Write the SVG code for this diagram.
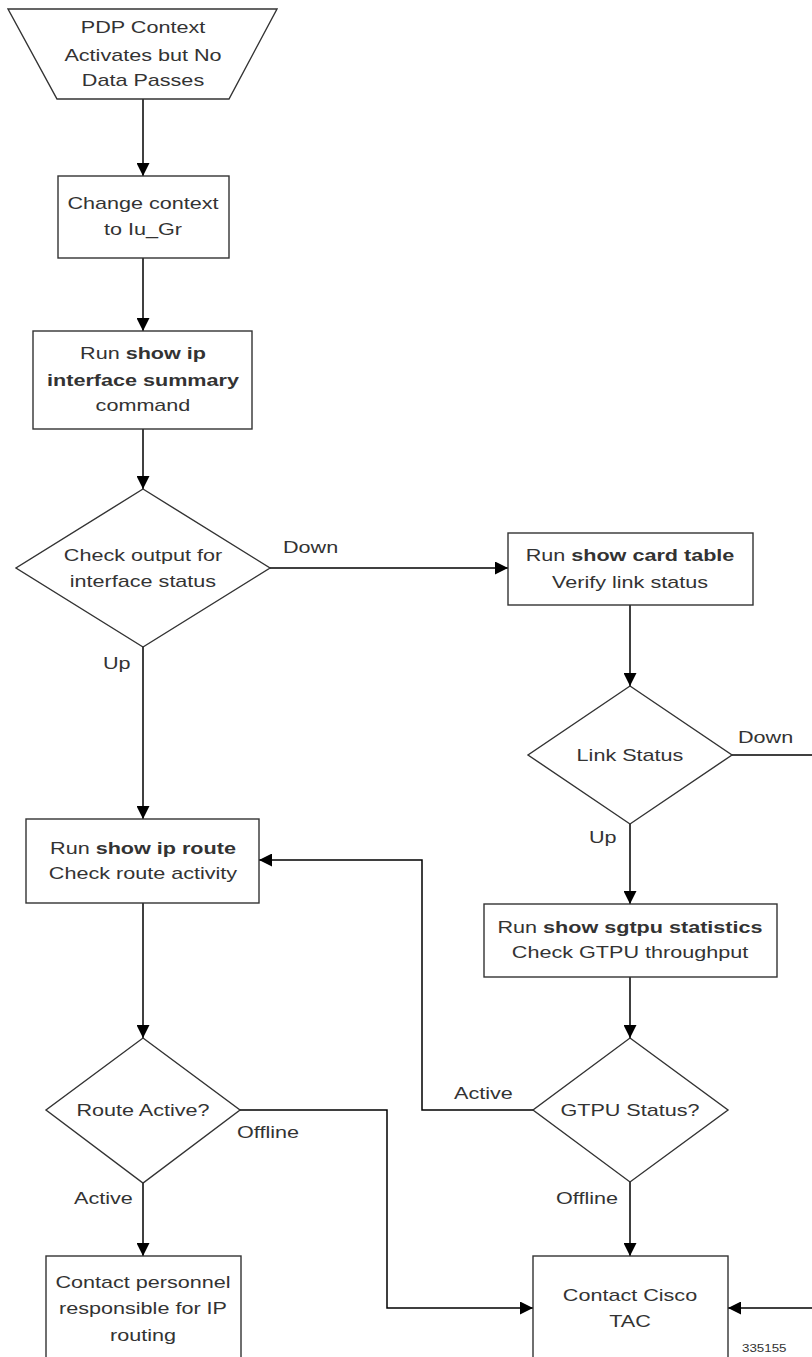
<svg xmlns="http://www.w3.org/2000/svg" width="812" height="1357" viewBox="0 0 812 1357">
<defs>
<marker id="arr" markerWidth="13" markerHeight="13" viewBox="0 0 13 13" refX="13" refY="6.5" orient="auto" markerUnits="userSpaceOnUse">
<path d="M0,0 L13,6.5 L0,13 Z" fill="#000"/>
</marker>
<style>
.sh{fill:#fff;stroke:#333;stroke-width:1.4}
.t{font-family:"Liberation Sans",Arial,sans-serif;font-size:17px;fill:#333;text-anchor:middle}
.l{font-family:"Liberation Sans",Arial,sans-serif;font-size:17px;fill:#333;text-anchor:start}
.b{font-weight:bold}
.c{fill:none;stroke:#000;stroke-width:1.5}
.ca{fill:none;stroke:#000;stroke-width:1.5;marker-end:url(#arr)}
</style>
</defs>
<rect width="812" height="1357" fill="#fff"/>
<g id="connectors">
<line class="ca" x1="143" y1="99" x2="143" y2="176"/>
<line class="ca" x1="143" y1="258" x2="143" y2="331"/>
<line class="ca" x1="143" y1="429" x2="143" y2="489"/>
<line class="ca" x1="270" y1="568" x2="508" y2="568"/>
<line class="ca" x1="630" y1="605" x2="630" y2="686"/>
<line class="c" x1="732" y1="755" x2="812" y2="755"/>
<line class="ca" x1="143" y1="647" x2="143" y2="819"/>
<line class="ca" x1="630" y1="824" x2="630" y2="904"/>
<line class="ca" x1="143" y1="903" x2="143" y2="1038"/>
<line class="ca" x1="630" y1="977" x2="630" y2="1038"/>
<polyline class="ca" points="533,1110 422,1110 422,860 259,860"/>
<polyline class="ca" points="240,1110 387,1110 387,1308 533,1308"/>
<line class="ca" x1="143" y1="1183" x2="143" y2="1256"/>
<line class="ca" x1="630" y1="1182" x2="630" y2="1256"/>
<line class="ca" x1="812" y1="1308" x2="728" y2="1308"/>
<text class="l" transform="translate(283,553) scale(1.27,1)">Down</text>
<text class="l" transform="translate(103,669) scale(1.27,1)">Up</text>
<text class="l" transform="translate(738,743) scale(1.27,1)">Down</text>
<text class="l" transform="translate(589,843) scale(1.27,1)">Up</text>
<text class="l" transform="translate(454,1099) scale(1.27,1)">Active</text>
<text class="l" transform="translate(237,1138) scale(1.27,1)">Offline</text>
<text class="l" transform="translate(74,1204) scale(1.27,1)">Active</text>
<text class="l" transform="translate(556,1204) scale(1.27,1)">Offline</text>
</g>
<g id="start">
<polygon class="sh" points="8,9 277,9 229,99 57,99"/>
<text class="t" transform="translate(143,33) scale(1.27,1)">PDP Context</text>
<text class="t" transform="translate(143,61) scale(1.27,1)">Activates but No</text>
<text class="t" transform="translate(143,86) scale(1.27,1)">Data Passes</text>
</g>
<g id="change-context">
<rect class="sh" x="58" y="176" width="171" height="82"/>
<text class="t" transform="translate(143,209) scale(1.27,1)">Change context</text>
<text class="t" transform="translate(143,235) scale(1.27,1)">to Iu_Gr</text>
</g>
<g id="show-ip-interface">
<rect class="sh" x="33" y="331" width="219" height="98"/>
<text class="t" transform="translate(143,359) scale(1.27,1)">Run <tspan class="b">show ip</tspan></text>
<text class="t b" transform="translate(143,386) scale(1.27,1)">interface summary</text>
<text class="t" transform="translate(143,411) scale(1.27,1)">command</text>
</g>
<g id="check-output">
<polygon class="sh" points="143,489 270,568 143,647 16,568"/>
<text class="t" transform="translate(143,561) scale(1.27,1)">Check output for</text>
<text class="t" transform="translate(143,587) scale(1.27,1)">interface status</text>
</g>
<g id="show-card-table">
<rect class="sh" x="508" y="533" width="245" height="72"/>
<text class="t" transform="translate(630,561) scale(1.27,1)">Run <tspan class="b">show card table</tspan></text>
<text class="t" transform="translate(630,588) scale(1.27,1)">Verify link status</text>
</g>
<g id="link-status">
<polygon class="sh" points="630,686 732,755 630,824 528,755"/>
<text class="t" transform="translate(630,761) scale(1.27,1)">Link Status</text>
</g>
<g id="show-ip-route">
<rect class="sh" x="26" y="819" width="233" height="84"/>
<text class="t" transform="translate(143,854) scale(1.27,1)">Run <tspan class="b">show ip route</tspan></text>
<text class="t" transform="translate(143,879) scale(1.27,1)">Check route activity</text>
</g>
<g id="show-sgtpu">
<rect class="sh" x="484" y="904" width="293" height="73"/>
<text class="t" transform="translate(630,933) scale(1.27,1)">Run <tspan class="b">show sgtpu statistics</tspan></text>
<text class="t" transform="translate(630,958) scale(1.27,1)">Check GTPU throughput</text>
</g>
<g id="route-active">
<polygon class="sh" points="143,1038 240,1110 143,1183 46,1110"/>
<text class="t" transform="translate(143,1116) scale(1.27,1)">Route Active?</text>
</g>
<g id="gtpu-status">
<polygon class="sh" points="630,1038 728,1110 630,1182 533,1110"/>
<text class="t" transform="translate(630,1116) scale(1.27,1)">GTPU Status?</text>
</g>
<g id="contact-personnel">
<rect class="sh" x="46" y="1256" width="195" height="120"/>
<text class="t" transform="translate(143,1288) scale(1.27,1)">Contact personnel</text>
<text class="t" transform="translate(143,1314) scale(1.27,1)">responsible for IP</text>
<text class="t" transform="translate(143,1341) scale(1.27,1)">routing</text>
</g>
<g id="contact-tac">
<rect class="sh" x="533" y="1256" width="195" height="120"/>
<text class="t" transform="translate(630,1301) scale(1.27,1)">Contact Cisco</text>
<text class="t" transform="translate(630,1327) scale(1.27,1)">TAC</text>
</g>
<text class="l" style="font-size:10.5px" transform="translate(742,1352) scale(1.27,1)">335155</text>
</svg>
